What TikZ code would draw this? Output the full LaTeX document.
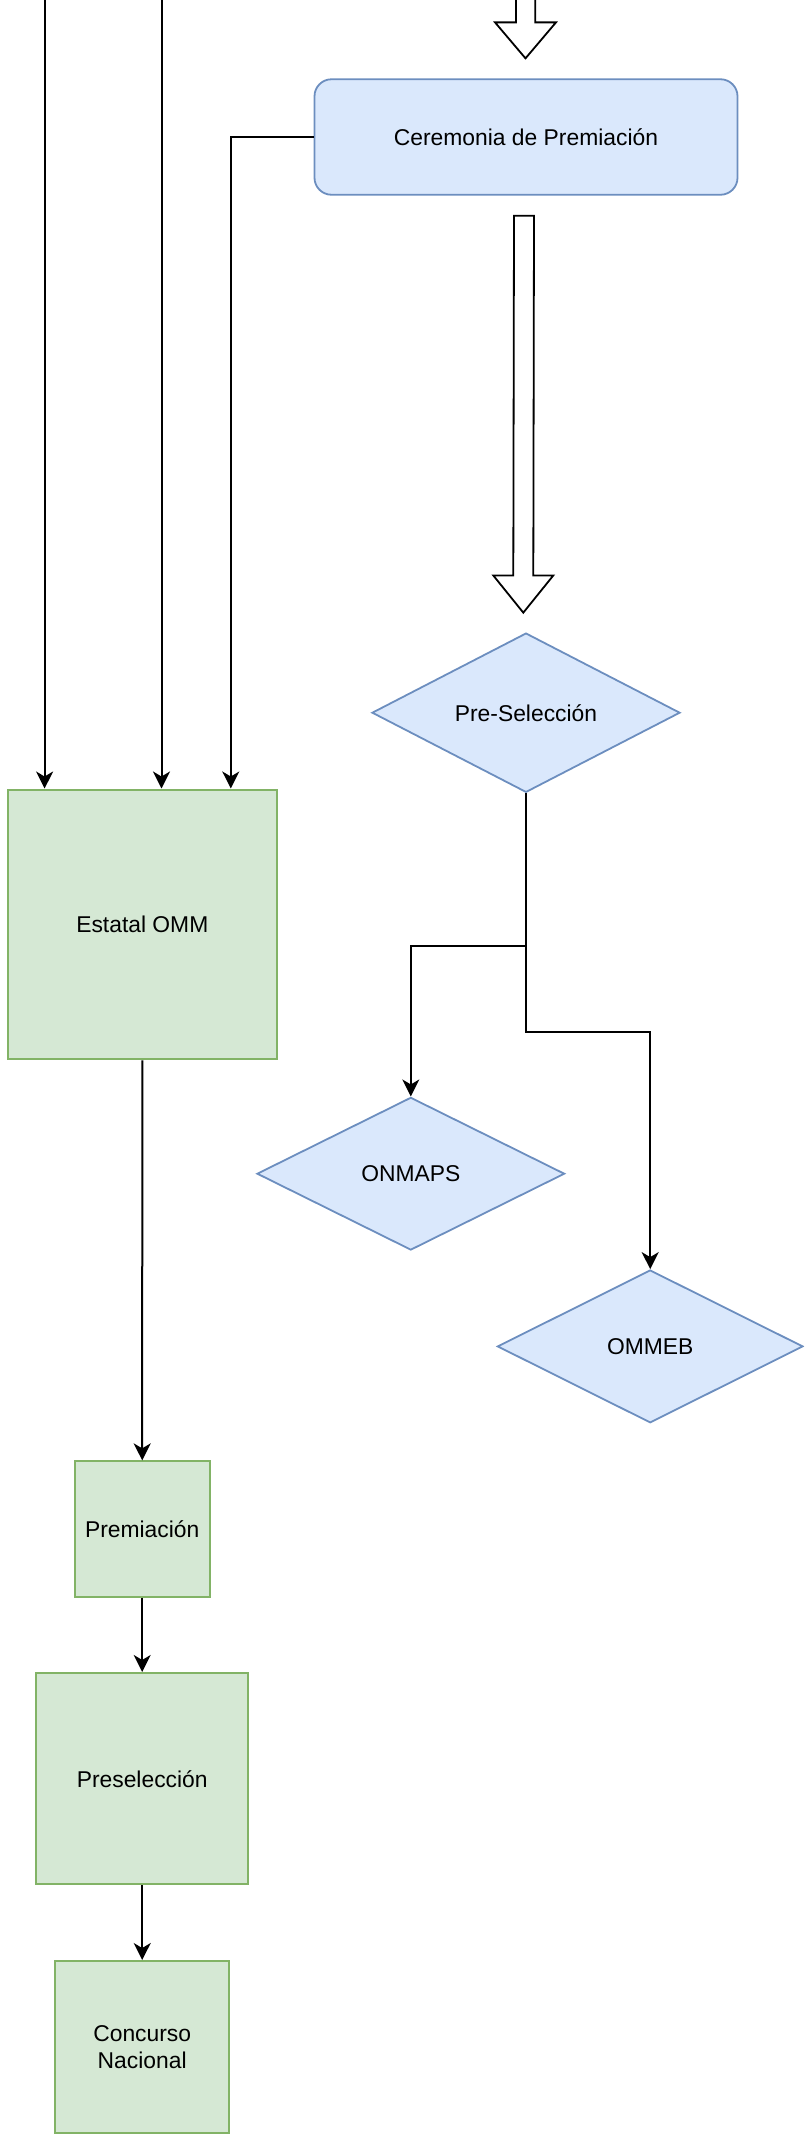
\documentclass[tikz,border=0pt]{standalone}
\usepackage{fontspec}
\setmainfont{Liberation Sans}
\usetikzlibrary{shapes.geometric,arrows.meta,calc}
\definecolor{bfill}{HTML}{DAE8FC}
\definecolor{bline}{HTML}{6C8EBF}
\definecolor{gfill}{HTML}{D5E8D4}
\definecolor{gline}{HTML}{82B366}
\begin{document}
\begin{tikzpicture}[x=1pt,y=-1pt,
  font=\fontsize{22.85}{26.5}\selectfont,
  gbox/.style={draw=gline,fill=gfill,line width=2pt,rectangle,inner sep=0pt,align=center},
  bdia/.style={draw=bline,fill=bfill,line width=1.8pt,diamond,inner sep=0pt},
  bround/.style={draw=bline,fill=bfill,line width=1.8pt,rectangle,rounded corners=17pt,inner sep=0pt},
  conn/.style={line width=2pt,-{Stealth[length=17pt,width=17pt,inset=5pt]}},
  blockarrow/.style={draw=black,fill=white,line width=1.8pt,line join=miter}]
\useasboundingbox (0,0) rectangle (804,2134);
\clip (0,0) rectangle (804,2134);
% nodes
\node[bround,minimum width=423pt,minimum height=115.5pt] (cer) at (526,137) {Ceremonia de Premiación};
\node[bdia,minimum width=308pt,minimum height=153.5pt] (pre) at (526,712.7) {Pre-Selección};
\node[bdia,minimum width=307.6pt,minimum height=152.7pt] (onm) at (410.8,1173.7) {ONMAPS};
\node[bdia,minimum width=305.6pt,minimum height=152.8pt] (omm) at (650.2,1346.4) {OMMEB};
\node[gbox,minimum width=269.5pt,minimum height=269.8pt] (est) at (142.3,924.4) {Estatal OMM};
\node[gbox,minimum width=135.3pt,minimum height=135.3pt] (prem) at (142.2,1529) {Premiación};
\node[gbox,minimum width=212.3pt,minimum height=211.5pt] (presel) at (142.2,1778.7) {Preselección};
\node[gbox,minimum width=173.7pt,minimum height=172pt] (conc) at (142.2,2047) {Concurso\\Nacional};
% free ends at the top
\coordinate (in1) at (44.6,-10);
\coordinate (in2) at (161.5,-10);
\coordinate (in0) at (525.5,-10);
% incoming lines to Estatal OMM
\draw[conn] (in1) -- (in1 |- est.north);
\draw[conn] (in2) -- (in2 |- est.north);
\draw[conn] (cer.west) -| ([xshift=88.5pt]est.north);
% top block arrow into Ceremonia
\draw[blockarrow] ($(in0)+(-9.5,0)$) -- ($(in0 |- cer.north)+(-9.5,-56)$) -- ($(in0 |- cer.north)+(-30.5,-56)$)
  -- ($(in0 |- cer.north)+(0,-20)$) -- ($(in0 |- cer.north)+(30.5,-56)$) -- ($(in0 |- cer.north)+(9.8,-56)$)
  -- ($(in0)+(9.8,0)$);
% block arrow Ceremonia -> Pre-Seleccion
\draw[blockarrow] ($(cer.south)+(-12,20)$) -- ($(pre.north)+(-12.7,-56.7)$) -- ($(pre.north)+(-32.7,-56.7)$)
  -- ($(pre.north)+(-2.7,-19.5)$) -- ($(pre.north)+(27.3,-56.7)$) -- ($(pre.north)+(7.3,-56.7)$)
  -- ($(cer.south)+(8,20)$) -- cycle;
% Pre-Seleccion branches
\draw[conn] (pre.south) -- ++(0,153) -| (onm.north);
\draw[conn] (pre.south) -- ++(0,239) -| (omm.north);
% left chain
\draw[conn] (est.south) -- (prem.north);
\draw[conn] (prem.south) -- (presel.north);
\draw[conn] (presel.south) -- (conc.north);
\end{tikzpicture}
\end{document}
